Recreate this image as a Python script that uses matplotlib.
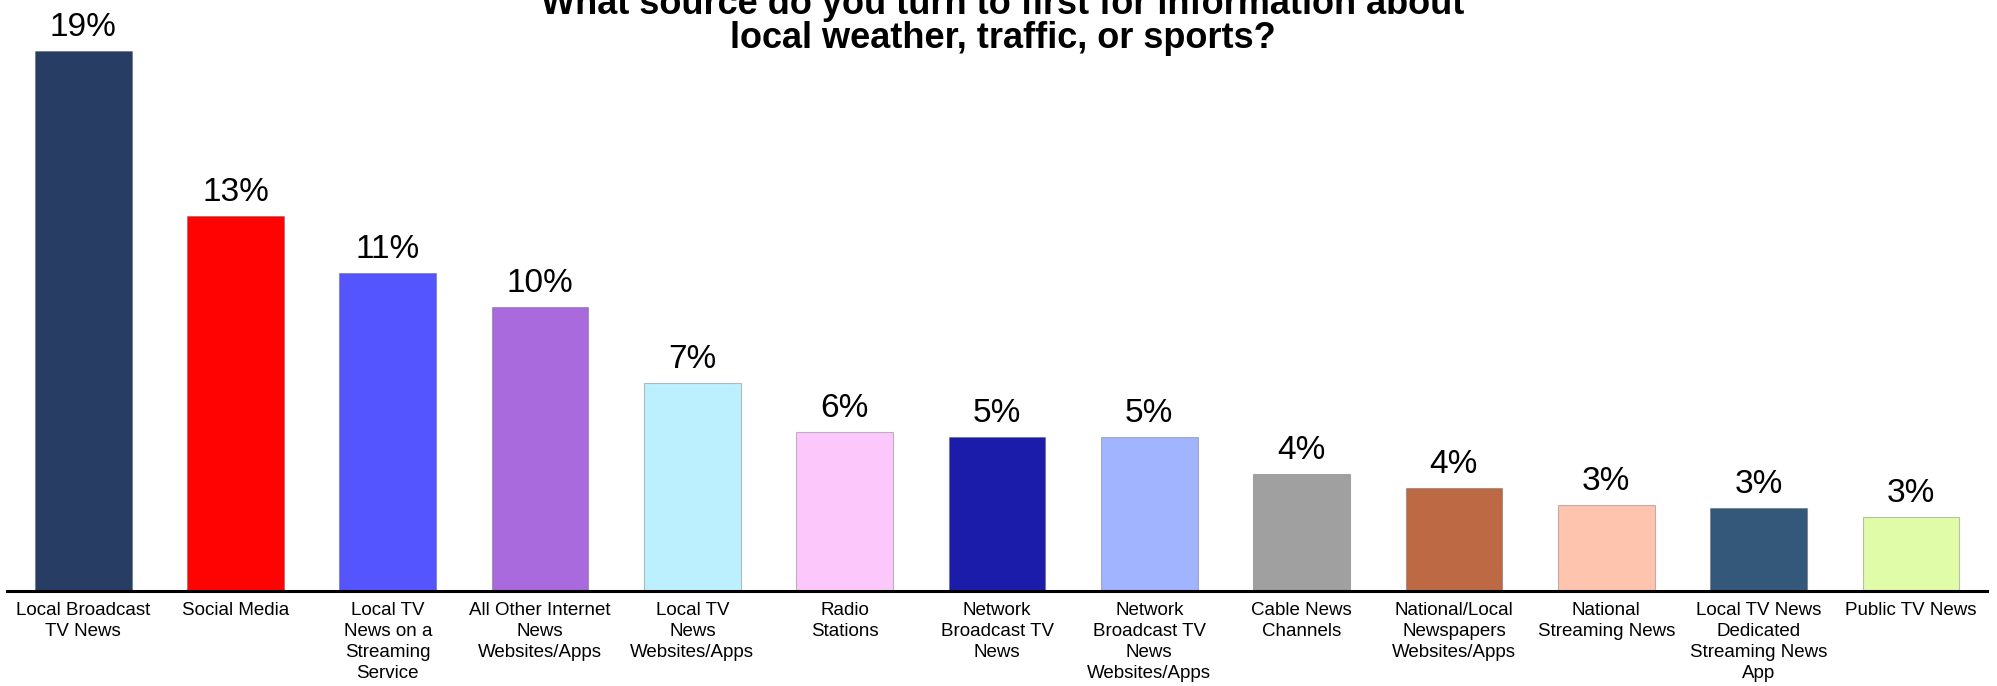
import matplotlib.pyplot as plt

# survey answers, share of respondents (%)
categories = [
    "Local Broadcast\nTV News",
    "Social Media",
    "Local TV\nNews on a\nStreaming\nService",
    "All Other Internet\nNews\nWebsites/Apps",
    "Local TV\nNews\nWebsites/Apps",
    "Radio\nStations",
    "Network\nBroadcast TV\nNews",
    "Network\nBroadcast TV\nNews\nWebsites/Apps",
    "Cable News\nChannels",
    "National/Local\nNewspapers\nWebsites/Apps",
    "National\nStreaming News",
    "Local TV News\nDedicated\nStreaming News\nApp",
    "Public TV News",
]
shares = [19.0, 13.2, 11.2, 10.0, 7.3, 5.6, 5.4, 5.4, 4.1, 3.6, 3.0, 2.9, 2.6]
colors = ["#283D64", "#FF0303", "#5555FF", "#A86ADC", "#BDF0FF", "#FCC8FC",
          "#1C1CAA", "#A0B4FF", "#A0A0A0", "#BD6A44", "#FFC4AE", "#34587A",
          "#E0FCA8"]

title = "What source do you turn to first for information about\nlocal weather, traffic, or sports?"

plt.rcParams['font.family'] = ['Liberation Sans', 'DejaVu Sans']

fig = plt.figure(figsize=(19.97, 6.86), dpi=100)
ax = fig.add_axes([0.0035, 0.1392, 0.9915, 0.8608])

x = range(len(categories))
bars = ax.bar(x, shares, width=0.635, color=colors,
              edgecolor=(0.3, 0.3, 0.3, 0.35), linewidth=0.8)

for b, v in zip(bars, shares):
    ax.annotate('%.0f%%' % v, (b.get_x() + b.get_width() / 2, v),
                xytext=(0, 10.8), textcoords='offset points',
                ha='center', va='baseline', fontsize=24)

ax.set_xlim(-0.5, 12.5)
ax.set_ylim(0, 20.8)
ax.set_xticks(list(x))
ax.set_xticklabels(categories, fontsize=13.5, linespacing=1.33)
ax.tick_params(axis='x', length=0, pad=8)
ax.set_yticks([])
for s in ['top', 'left', 'right']:
    ax.spines[s].set_visible(False)
ax.spines['bottom'].set_linewidth(2.2)
ax.spines['bottom'].set_color('black')

# baseline of the second title line sits ~48 px below the top edge
fig.text(0.502, 1 - 48 / 686, title, ha='center', va='baseline',
         fontsize=26, fontweight='bold', linespacing=0.95)

fig.savefig('out.png', dpi=100)
